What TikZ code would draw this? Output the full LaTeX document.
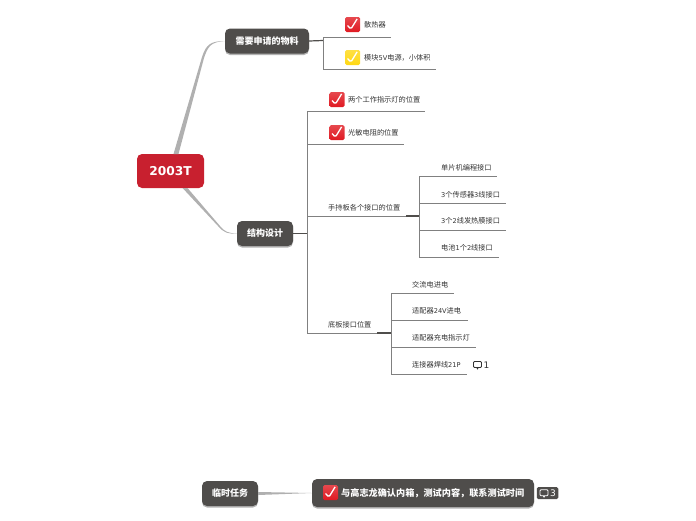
\documentclass[tikz,border=0pt]{standalone}
\usepackage{fontspec}
\setmainfont{Noto Sans CJK SC}
\newfontfamily\ltnfont{DejaVu Sans}
\usetikzlibrary{shadows,calc}
\definecolor{topicgray}{HTML}{4F4D4B}
\definecolor{rootred}{HTML}{C8202F}
\definecolor{textgray}{HTML}{333333}
\definecolor{linegray}{HTML}{808080}
\definecolor{taper}{HTML}{B0B0B0}
\definecolor{chkred}{HTML}{E01A22}
\definecolor{chkyellow}{HTML}{FFD814}
\newcommand{\ltn}[1]{{\ltnfont\fontsize{6.6}{9}\selectfont #1}}
\begin{document}
\begin{tikzpicture}[
x=1pt,y=-1pt,
root/.style={
    rectangle,
    rounded corners=5pt,
    fill=rootred,
    text=white,
    inner sep=0pt,
    minimum width=67pt,
    minimum height=34pt,
    font=\ltnfont\bfseries\fontsize{12.2}{14}\selectfont
},
topic/.style={
    rectangle,
    rounded corners=5pt,
    fill=topicgray,
    text=white,
    inner sep=0pt,
    minimum height=25pt,
    font=\bfseries\fontsize{9}{11}\selectfont,
    drop shadow={shadow xshift=0pt,shadow yshift=-1.5pt,opacity=.3,fill=black}
},
leaf/.style={
    anchor=west,
    text=textgray,
    inner sep=0pt,
    font=\fontsize{7.2}{9}\selectfont
},
chkbox/.style={
    rectangle,
    rounded corners=1.5pt,
    inner sep=0pt,
    minimum size=15pt,
    top color=#1!80!white,
    bottom color=#1,
    path picture={
        \draw[white,line width=1.3pt]
        (path picture bounding box.center) ++(-5,1) -- ++(3.4,3.6) -- ++(6.2,-10.2);
    }
},
comicon/.style={
    rectangle,
    rounded corners=1pt,
    draw=#1,
    line width=.8pt,
    inner sep=0pt,
    minimum width=8pt,
    minimum height=6pt
},
lnk/.style={linegray,line width=.8pt},
stem/.style={topicgray,line width=1.2pt}
]
\useasboundingbox (0,0) rectangle (696,520);

%---------------- Main topics ----------------
\node[root] (proj) at (170.5,171) {2003T};
\node[topic,minimum width=84pt] (need) at (267,41) {需要申请的物料};
\node[topic,minimum width=56pt] (frame) at (265,233.5) {结构设计};
\node[topic,minimum width=56pt] (temp) at (230,493.5) {临时任务};
\node[topic,minimum width=222pt,minimum height=28pt] (call) at (423,493) {};

\coordinate (rootup) at (176,154);
\coordinate (rootdown) at (185,188);

\fill[taper] ($(rootup)+(-2.5,0)$) -- (202,57) .. controls (206,45) and (210,41) .. (need.west)
    .. controls (211,42) and (208,46) .. (204,58) -- ($(rootup)+(2.5,0)$) -- cycle;
\fill[taper] ($(rootdown)+(-2.5,0)$) -- (218,226) .. controls (224,233) and (228,234) .. (frame.west)
    .. controls (228,233) and (225,232) .. (220,226) -- ($(rootdown)+(2.5,0)$) -- cycle;
\fill[taper] ($(temp.east)+(0,-1.5)$) -- (call.west) -- ($(temp.east)+(0,1.5)$) -- cycle;

%---------------- Materials ----------------
\node[chkbox=chkred] (chkA) at (352.5,24.5) {};
\node[leaf] (heat) at (364,24.5) {散热器};
\node[chkbox=chkyellow] (chkB) at (352.5,57.5) {};
\node[leaf] (power) at (364,57.5) {模块\ltn{5V}电源，小体积};

\coordinate (needhub) at (323,40.5);
\coordinate (heatend) at (391,37);
\coordinate (powerend) at (436,69);
\draw[stem] (need.east) -- (needhub);
\draw[lnk] (needhub) |- (heatend);
\draw[lnk] (needhub) |- (powerend);

%---------------- Structure ----------------
\node[chkbox=chkred] (chkC) at (337,99.5) {};
\node[leaf] (lamp) at (348,100) {两个工作指示灯的位置};
\node[chkbox=chkred] (chkD) at (337,132.5) {};
\node[leaf] (ldr) at (348,132.5) {光敏电阻的位置};
\node[leaf] (hand) at (328,208) {手持板各个接口的位置};
\node[leaf] (base) at (328,325) {底板接口位置};

\coordinate (framehub) at (307,233.5);
\coordinate (lampend) at (425,111);
\coordinate (ldrend) at (404,144);
\coordinate (handend) at (406,216);
\coordinate (handhub) at (419,216);
\coordinate (baseend) at (377,333);
\coordinate (basehub) at (391,333);
\draw[stem] (frame.east) -- (framehub);
\draw[lnk] (framehub) |- (lampend);
\draw[lnk] (framehub) |- (ldrend);
\draw[lnk] (framehub) |- (handend);
\draw[lnk] (framehub) |- (baseend);
\draw[stem] (handend) -- (handhub);
\draw[stem] (baseend) -- (basehub);

%---------------- Handheld ports ----------------
\node[leaf] (mcu) at (441,168) {单片机编程接口};
\node[leaf] (sensor) at (441,195) {\ltn{3}个传感器\ltn{3}线接口};
\node[leaf] (film) at (441,221) {\ltn{3}个\ltn{2}线发热膜接口};
\node[leaf] (cell) at (441,248) {电池\ltn{1}个\ltn{2}线接口};

\coordinate (mcuend) at (497,176);
\coordinate (sensorend) at (506,203);
\coordinate (filmend) at (506,230);
\coordinate (cellend) at (499,257);
\foreach \e in {mcuend,sensorend,filmend,cellend}
    \draw[lnk] (handhub) |- (\e);

%---------------- Base ports ----------------
\node[leaf] (acin) at (412,285) {交流电进电};
\node[leaf] (dcin) at (412,311) {适配器\ltn{24V}进电};
\node[leaf] (chg) at (412,338) {适配器充电指示灯};
\node[leaf] (wire) at (412,365) {连接器焊线\ltn{21P}};

\coordinate (acend) at (454,293);
\coordinate (dcend) at (468,320);
\coordinate (chgend) at (476,347);
\coordinate (wireend) at (467,374);
\foreach \e in {acend,dcend,chgend,wireend}
    \draw[lnk] (basehub) |- (\e);

\node[comicon=textgray] (noteA) at (477.5,364.5) {};
\fill[textgray] ($(noteA.south)+(-1,0)$) -- ++(2,0) -- ++(-1,1.8) -- cycle;
\node[leaf] (noteAnum) at (483.5,365) {\ltn{\fontsize{9}{10}\selectfont 1}};

%---------------- Temporary ----------------
\node[chkbox=chkred] (chkE) at (330.5,492.5) {};
\node[leaf,text=white,font=\bfseries\fontsize{9.15}{11}\selectfont] (talk) at (341,493) {与高志龙确认内箱，测试内容，联系测试时间};

\node[rectangle,rounded corners=1.5pt,fill=topicgray,minimum width=21.5pt,minimum height=12pt,inner sep=0pt] (badge) at (547.5,493) {};
\node[comicon=white] (noteB) at (544,492.7) {};
\fill[white] ($(noteB.south)+(-1,0)$) -- ++(2,0) -- ++(-1,1.8) -- cycle;
\node[leaf,text=white] (noteBnum) at (550,493) {\ltn{\fontsize{9}{10}\selectfont 3}};

\end{tikzpicture}
\end{document}
